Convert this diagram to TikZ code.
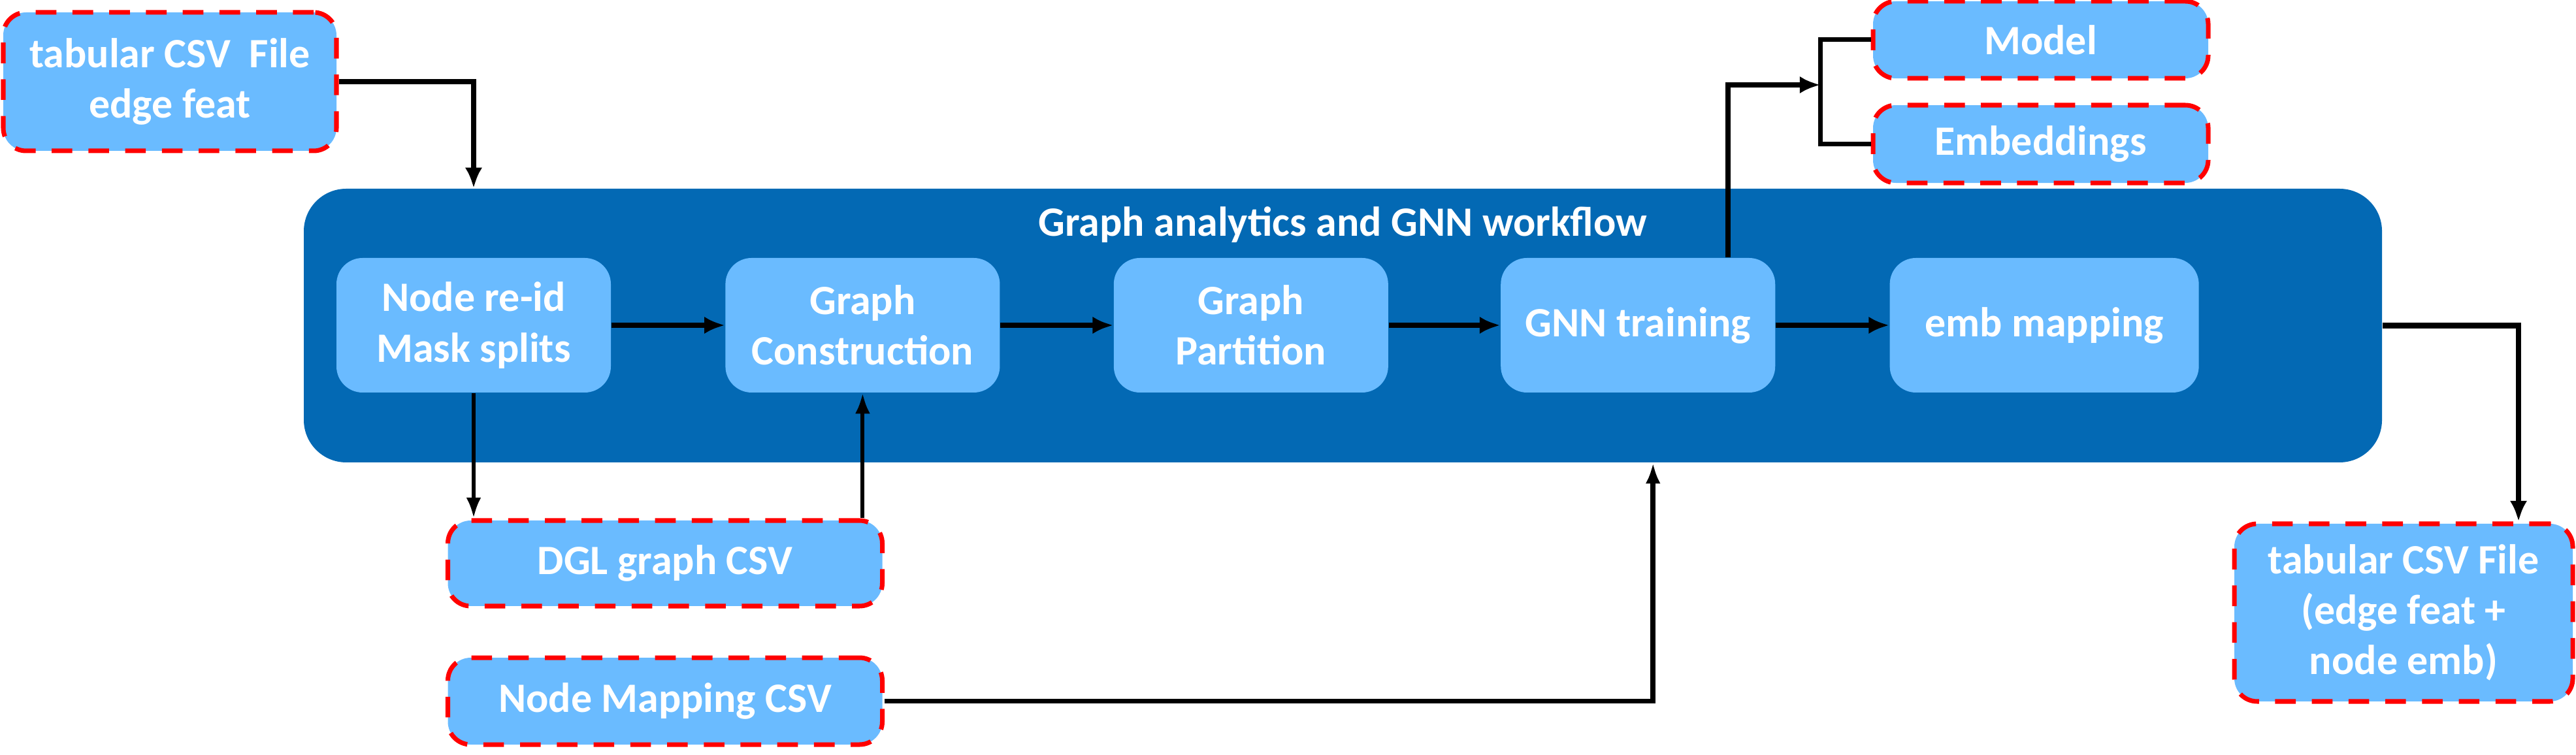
\documentclass[tikz,border=0pt]{standalone}
\usepackage{fontspec}
\setmainfont{Carlito}
\usetikzlibrary{arrows.meta,positioning}
\definecolor{flowblue}{RGB}{3,105,180}
\definecolor{stepblue}{RGB}{106,187,255}
\definecolor{filered}{RGB}{255,0,0}

\begin{document}
\begin{tikzpicture}[
        txt/.style={text=white, font=\bfseries\fontsize{18.2}{22}\selectfont, align=center},
        block/.style={rectangle, txt, fill=stepblue, rounded corners=0.4cm,
                      minimum width=4.2cm, minimum height=2.06cm, inner sep=0pt},
        file/.style={block, draw=filered, line width=2pt, dash pattern=on 9pt off 7pt, rounded corners=0.35cm},
        workflow/.style={rectangle, fill=flowblue, rounded corners=0.65cm, minimum width=31.81cm, minimum height=4.19cm},
        line/.style={draw, line width=2.4pt, -{Latex[length=9pt,width=7.5pt]}},
        thinline/.style={draw, line width=1.7pt, -{Latex[length=9pt,width=6.5pt]}},
        fork/.style={draw, line width=2pt}
    ]
    \useasboundingbox (0,0) rectangle (39.43,-11.56);

    % workflow box
    \node [workflow] (main) at (20.555,-4.985) {};
    \node [txt] (title) at ([yshift=-0.56cm]main.north) {Graph analytics and GNN workflow};
    \node [block] (reid) at (7.25,-4.98) {Node re-id\\Mask splits};
    \node [block, right=1.74cm of reid] (constr) {Graph\\Construction};
    \node [block, right=1.73cm of constr] (part) {Graph\\Partition};
    \node [block, right=1.71cm of part] (gnn) {GNN training};
    \node [block, right=1.74cm of gnn, minimum width=4.73cm] (embmap) {emb mapping};

    % files
    \node [file, minimum width=5.1cm, minimum height=2.12cm] (input) at (2.60,-1.25) {tabular CSV\ \ File\\edge feat};
    \node [file, minimum width=5.13cm, minimum height=1.18cm] (model) at (31.235,-0.61) {Model};
    \node [file, minimum width=5.13cm, minimum height=1.19cm, below=0.34cm of model] (embed) {Embeddings};
    \node [file, minimum width=6.65cm, minimum height=1.31cm] (dgl) at (10.18,-8.625) {DGL graph CSV};
    \node [file, minimum width=6.65cm, minimum height=1.33cm, below=0.72cm of dgl] (nodemap) {Node Mapping CSV};
    \node [file, minimum width=5.18cm, minimum height=2.72cm] (output) at (36.79,-9.38) {tabular CSV File\\(edge feat +\\node emb)};

    \draw [line] (input.east) -| (reid |- main.north);
    \draw [line] (reid) -- (constr);
    \draw [line] (constr) -- (part);
    \draw [line] (part) -- (gnn);
    \draw [line] (gnn) -- (embmap);
    \draw [thinline] (reid.south) -- (reid.south |- dgl.north);
    \draw [thinline] (constr.south |- dgl.north) -- (constr.south);
    \draw [thinline, line width=2.2pt] (nodemap.east) -| ([xshift=0.23cm]gnn.south |- main.south);
    \draw [line] (main.east) -| ([xshift=1.76cm]output.north);

    % outputs of training
    \draw [fork] (model.west) -- ++(-0.77,0) coordinate (forktop) |- (embed.west);
    \draw [line] ([xshift=1.38cm]gnn.north) |- ([yshift=-0.69cm]forktop);
\end{tikzpicture}
\end{document}
